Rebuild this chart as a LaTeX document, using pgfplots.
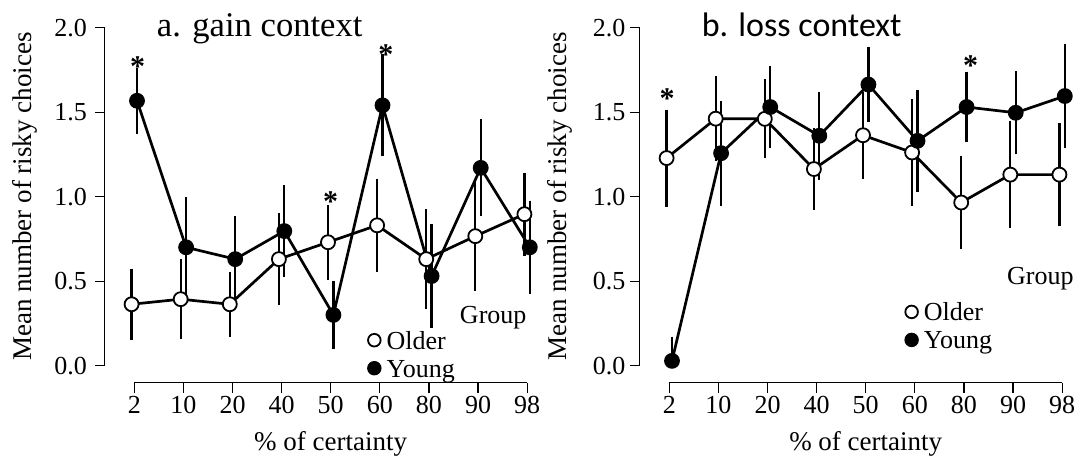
\documentclass[border=0pt]{standalone}
\usepackage{pgfplots}
\pgfplotsset{compat=1.18}
\usepackage{pgfplotstable}
\usepackage{fontspec}
\setmainfont{Liberation Serif}
\newfontfamily\carlito{Carlito}

% i = position of the certainty level (2,10,20,40,50,60,80,90,98)
\pgfplotstableread{
i o     oe    y     ye
0 0.363 0.195 1.567 0.180
1 0.393 0.220 0.700 0.280
2 0.363 0.175 0.630 0.240
3 0.630 0.255 0.796 0.255
4 0.730 0.205 0.300 0.186
5 0.830 0.260 1.540 0.285
6 0.630 0.280 0.530 0.290
7 0.766 0.310 1.170 0.270
8 0.896 0.230 0.700 0.260
}\gain

\pgfplotstableread{
i o     oe    y     yp    ym
0 1.228 0.270 0.028 0.127 0.000
1 1.461 0.235 1.257 0.295 0.295
2 1.460 0.217 1.530 0.228 0.228
3 1.163 0.225 1.360 0.244 0.244
4 1.363 0.240 1.663 0.207 0.207
5 1.261 0.300 1.330 0.286 0.286
6 0.965 0.257 1.530 0.193 0.193
7 1.130 0.300 1.496 0.230 0.230
8 1.130 0.290 1.595 0.290 0.290
}\loss

\tikzset{sig/.style={font=\bfseries\fontsize{30}{30}\selectfont, anchor=base, inner sep=0pt}}

\pgfplotsset{
  riskaxis/.style={
    scale only axis, width=432.1pt, height=354.9pt,
    xmin=-0.6, xmax=8.2, ymin=-0.1, ymax=2.0,
    axis x line*=bottom, axis y line*=left,
    axis line style={draw=none},
    % ticks point outwards; labels keep a fixed distance from the axis line
    tick align=inside, major tick length=-10pt,
    every tick/.style={black, line width=1.2pt},
    xtick={0,...,8}, xticklabels={2,10,20,40,50,60,80,90,98},
    ytick={0,0.5,1,1.5,2}, yticklabels={0.0,0.5,1.0,1.5,2.0},
    tick label style={font=\fontsize{26}{26}\selectfont},
    xticklabel style={yshift=-10.5pt},
    clip=false,
    legend cell align=left,
    legend image code/.code={\draw[##1, only marks, mark size=6.3pt] plot coordinates {(0pt,3.5pt)};},
    legend style={draw=none, fill=none, inner sep=0pt, anchor=north west,
      font=\fontsize{26}{26}\selectfont, column sep=4pt,
      nodes={text height=18pt, text depth=7pt, inner ysep=1.5pt}},
  },
  older/.style={black, line width=2.7pt, mark=*, mark size=7pt,
    mark options={fill=white, line width=1.8pt}},
  young/.style={black, line width=2.7pt, mark=*, mark size=7pt,
    mark options={fill=black, line width=1.8pt}},
  ebar/.style={error bars/.cd, y dir=both, y explicit,
    error bar style={line width=2.3pt},
    error mark options={line width=2.3pt, mark size=2.8pt}},
}

\begin{document}
\begin{tikzpicture}
\begin{axis}[riskaxis, yticklabel style={xshift=-14.5pt},
    legend style={at={(axis cs:4.756,0.2136)}}]
  \addplot[older, ebar] table[x expr=\thisrow{i}-0.055, y=o, y error=oe] {\gain};
  \addlegendentry{Older}
  \addplot[young, ebar] table[x expr=\thisrow{i}+0.055, y=y, y error=ye] {\gain};
  \addlegendentry{Young}
  \draw[line width=1.2pt] (axis cs:-0.6,0) -- (axis cs:-0.6,2);
  \draw[line width=1.2pt] (axis cs:0,-0.1) -- (axis cs:8,-0.1);
  \node[anchor=base west, inner sep=0pt, font=\fontsize{34.6}{36}\selectfont] at (axis cs:0.456,1.95) {a. gain context};
  \node[sig] at (axis cs:0.07,1.708) {*};
  \node[sig] at (axis cs:4.0,0.91) {*};
  \node[sig] at (axis cs:5.126,1.779) {*};
  \node[anchor=base east, inner sep=0pt, font=\fontsize{26}{26}\selectfont] at (axis cs:7.99,0.25) {Group};
  \node[anchor=base, inner sep=0pt, font=\fontsize{27}{27}\selectfont] at ([yshift=-67.5pt]axis cs:4,-0.1) {\% of certainty};
  \node[rotate=90, anchor=base, inner sep=0pt, font=\fontsize{27}{27}\selectfont] at ([xshift=-73pt]axis cs:-0.6,1) {Mean number of risky choices};
\end{axis}
\begin{axis}[riskaxis, at={(535pt,0pt)}, anchor=south west, yticklabel style={xshift=-11pt},
    legend style={at={(axis cs:4.803,0.381)}}]
  \addplot[older, ebar] table[x expr=\thisrow{i}-0.055, y=o, y error=oe] {\loss};
  \addlegendentry{Older}
  \addplot[young, ebar] table[x expr=\thisrow{i}+0.055, y=y, y error plus=yp, y error minus=ym] {\loss};
  \addlegendentry{Young}
  \draw[line width=1.2pt] (axis cs:-0.6,0) -- (axis cs:-0.6,2);
  \draw[line width=1.2pt] (axis cs:0,-0.1) -- (axis cs:8,-0.1);
  \node[anchor=base west, inner sep=0pt, font=\carlito\fontsize{34}{36}\selectfont] at (axis cs:0.657,1.947) {b. loss context};
  \node[sig] at (axis cs:-0.047,1.524) {*};
  \node[sig] at (axis cs:6.137,1.715) {*};
  \node[anchor=base east, inner sep=0pt, font=\fontsize{26}{26}\selectfont] at (axis cs:8.238,0.477) {Group};
  \node[anchor=base, inner sep=0pt, font=\fontsize{27}{27}\selectfont] at ([yshift=-67.5pt]axis cs:4,-0.1) {\% of certainty};
  \node[rotate=90, anchor=base, inner sep=0pt, font=\fontsize{27}{27}\selectfont] at ([xshift=-73pt]axis cs:-0.6,1) {Mean number of risky choices};
\end{axis}
\pgfresetboundingbox
\path (-104.84pt,-78.5pt) rectangle (973.16pt,382.5pt);
\end{tikzpicture}
\end{document}
